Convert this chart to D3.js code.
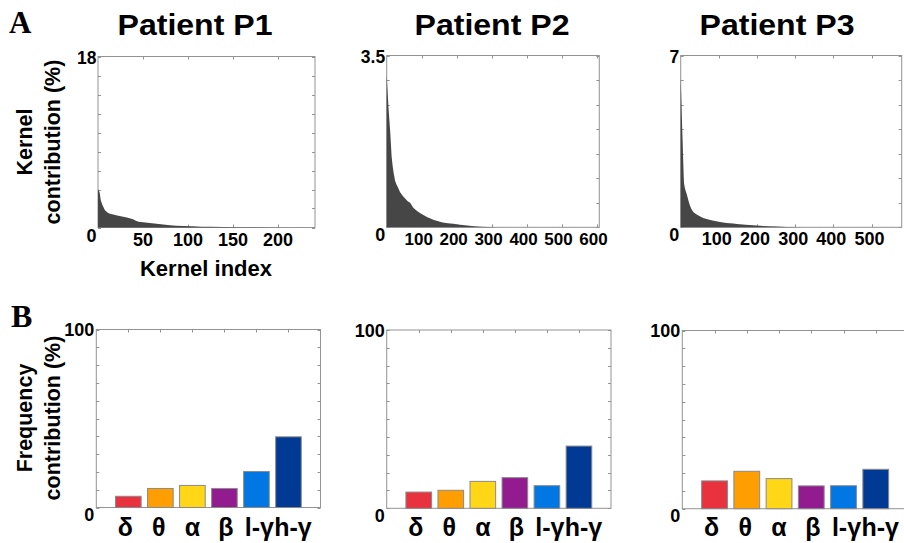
<!DOCTYPE html>
<html><head><meta charset="utf-8">
<script src="https://cdn.jsdelivr.net/npm/d3@7"></script>
<style>
body{margin:0;background:#fff}
text{font-family:Arial,"Liberation Sans",Helvetica,sans-serif;font-weight:bold;fill:#000}
</style>
</head><body>
<svg id="c" width="904" height="543"></svg>
<script>
// ---------- DATA ----------
const patientTitles = ["Patient P1", "Patient P2", "Patient P3"];

// Kernel contribution (%) sorted descending, sampled along kernel index
const p1KernelIndex = [0,1,2,3,4,5,6,7,8,9,10,12,14,17,20,24,28,32,36,39,42,45,50,55,60,65,70,75,80,87,95,105,115,125,140,160,180,200,220,240];
const p1KernelValue = [4.0,3.9,3.6,2.9,2.6,2.35,2.15,1.95,1.8,1.7,1.6,1.5,1.42,1.37,1.3,1.22,1.14,1.05,0.95,0.86,0.7,0.6,0.55,0.5,0.45,0.4,0.35,0.3,0.25,0.19,0.15,0.12,0.09,0.07,0.05,0.035,0.02,0.012,0.006,0.003];

const p2KernelIndex = [0,2,5,8,10,12,14,17,20,24,28,33,38,45,52,60,67,76,85,95,105,115,125,135,145,160,175,190,210,230,250,270,290,320,600];
const p2KernelValue = [3.1,2.85,2.45,2.15,1.95,1.7,1.45,1.25,1.1,0.95,0.87,0.8,0.72,0.65,0.59,0.53,0.5,0.4,0.34,0.29,0.25,0.21,0.18,0.15,0.13,0.1,0.08,0.07,0.05,0.035,0.02,0.012,0.006,0.003,0.001];

const p3KernelIndex = [0,1,2,3,4,5,6,7,8,9,11,13,16,20,24,28,33,38,42,50,59,68,80,90,103,120,138,147,170,190,208,230,251,277,320,400,575];
const p3KernelValue = [6.1,5.6,5.1,4.5,4.0,3.55,3.0,2.5,2.0,1.75,1.6,1.48,1.35,1.1,0.9,0.75,0.62,0.56,0.52,0.45,0.38,0.34,0.29,0.26,0.22,0.18,0.15,0.13,0.1,0.08,0.06,0.045,0.03,0.015,0.006,0.002,0.001];

const kernelXMax = [241, 608, 579];
const kernelYMax = [18, 3.5, 7];
const kernelYStep = [2, 0.5, 1];
const kernelYMaxLabel = ["18", "3.5", "7"];
const p1KernelTicks = [50,100,150,200];
const p2KernelTicks = [100,200,300,400,500,600];
const p3KernelTicks = [100,200,300,400,500];

// Frequency contribution (%)
const bands = ["δ", "θ", "α", "β", "l-γ", "h-γ"];
const bandColors = ["#e8333f", "#ff9e00", "#ffd717", "#921b8f", "#0177e3", "#013a94"];
const p1Freq = [6.3, 10.7, 12.4, 10.7, 20.2, 39.7];
const p2Freq = [9.1, 10.1, 15.1, 17.2, 12.7, 34.9];
const p3Freq = [15.6, 21.0, 16.9, 12.8, 12.9, 22.1];
const freqYMax = 100;

// ---------- LAYOUT ----------
const svg = d3.select("#c");
const frameColor = "#939393";
const kernelPanels = [
  {x0: 98, x1: 315, y0: 56.5, y1: 227.5, idx: p1KernelIndex, val: p1KernelValue, ticks: p1KernelTicks, tdx: 0, fs: 18},
  {x0: 386.7, x1: 599.3, y0: 55.5, y1: 227.3, idx: p2KernelIndex, val: p2KernelValue, ticks: p2KernelTicks, tdx: -3, fs: 17},
  {x0: 680.7, x1: 901.7, y0: 55.5, y1: 227.3, idx: p3KernelIndex, val: p3KernelValue, ticks: p3KernelTicks, tdx: -2, fs: 18}
];
const barPanels = [
  {x0: 96.3, x1: 320.5, y0: 329.5, y1: 507.5, vals: p1Freq},
  {x0: 386.7, x1: 611, y0: 330, y1: 508.3, vals: p2Freq},
  {x0: 682.3, x1: 908, y0: 330.5, y1: 508.7, vals: p3Freq}
];
const titleX = [195, 492, 777];

function drawTicks(g, x, y, xTicks, yTicks, p) {
  const tk = g.append("g").attr("stroke", frameColor).attr("stroke-width", 1);
  xTicks.forEach(v => {
    const xx = Math.round(x(v)) + 0.5;
    tk.append("line").attr("x1", xx).attr("x2", xx).attr("y1", p.y0).attr("y2", p.y0 + 3);
    tk.append("line").attr("x1", xx).attr("x2", xx).attr("y1", p.y1).attr("y2", p.y1 - 3);
  });
  yTicks.forEach(v => {
    const yy = Math.round(y(v)) + 0.5;
    tk.append("line").attr("x1", p.x0).attr("x2", p.x0 + 3).attr("y1", yy).attr("y2", yy);
    tk.append("line").attr("x1", p.x1).attr("x2", p.x1 - 3).attr("y1", yy).attr("y2", yy);
  });
}

// ---------- KERNEL PANELS ----------
kernelPanels.forEach((p, i) => {
  const g = svg.append("g");
  const x = d3.scaleLinear().domain([0, kernelXMax[i]]).range([p.x0, p.x1]);
  const y = d3.scaleLinear().domain([0, kernelYMax[i]]).range([p.y1, p.y0]);
  g.append("rect").attr("x", p.x0).attr("y", p.y0).attr("width", p.x1 - p.x0).attr("height", p.y1 - p.y0)
    .attr("fill", "#fff").attr("stroke", frameColor).attr("stroke-width", 1);
  drawTicks(g, x, y, p.ticks, d3.range(0, kernelYMax[i] + 1e-9, kernelYStep[i]), p);
  const data = p.idx.map((d, k) => [d, p.val[k]]);
  const area = d3.area().x(d => x(d[0])).y0(y(0)).y1(d => y(d[1])).curve(d3.curveLinear);
  g.append("path").datum(data).attr("d", area).attr("fill", "#464646");
  g.selectAll("text.xt").data(p.ticks).join("text").attr("class", "xt")
    .attr("x", d => x(d) + p.tdx).attr("y", p.y1 + 18)
    .attr("text-anchor", "middle").attr("font-size", p.fs).text(d => d);
  g.append("text").attr("x", p.x0 - 1.5).attr("y", p.y1 + 14).attr("text-anchor", "end").attr("font-size", 18).text("0");
  g.append("text").attr("x", p.x0 - 1.5).attr("y", p.y0 + 7).attr("text-anchor", "end").attr("font-size", 17.5).text(kernelYMaxLabel[i]);
  svg.append("text").attr("x", titleX[i]).attr("y", 35).attr("text-anchor", "middle")
    .attr("font-size", 29.5).attr("textLength", 155).attr("lengthAdjust", "spacingAndGlyphs").text(patientTitles[i]);
});

// ---------- FREQUENCY PANELS ----------
barPanels.forEach((p, i) => {
  const g = svg.append("g");
  const x = d3.scaleLinear().domain([0, 7]).range([p.x0, p.x1]);
  const y = d3.scaleLinear().domain([0, freqYMax]).range([p.y1, p.y0]);
  g.append("rect").attr("x", p.x0).attr("y", p.y0).attr("width", p.x1 - p.x0).attr("height", p.y1 - p.y0)
    .attr("fill", "#fff").attr("stroke", frameColor).attr("stroke-width", 1);
  drawTicks(g, x, y, d3.range(1, 7), d3.range(0, 101, 10), p);
  const bw = (x(1) - x(0)) * 0.8;
  g.selectAll("rect.bar").data(p.vals).join("rect").attr("class", "bar")
    .attr("x", (d, k) => x(k + 1) - bw / 2).attr("width", bw)
    .attr("y", d => y(d)).attr("height", d => y(0) - y(d))
    .attr("fill", (d, k) => bandColors[k]).attr("stroke", "#8a8a8a").attr("stroke-width", 1);
  g.selectAll("text.band").data(bands).join("text").attr("class", "band")
    .attr("x", (d, k) => x(k + 1) + (k - 2) * 1.5).attr("y", 535.5)
    .attr("text-anchor", "middle").attr("font-size", 25).text(d => d);
  g.append("text").attr("x", p.x0 - 2).attr("y", p.y1 + 13.5).attr("text-anchor", "end").attr("font-size", 18).text("0");
  g.append("text").attr("x", p.x0 - 2).attr("y", p.y0 + 6.5).attr("text-anchor", "end").attr("font-size", 18).text(freqYMax);
});

// ---------- LABELS ----------
svg.append("text").attr("x", 9).attr("y", 33).attr("font-size", 31)
  .style("font-family", "'Times New Roman','Liberation Serif',serif").text("A");
svg.append("text").attr("x", 11).attr("y", 327).attr("font-size", 32)
  .style("font-family", "'Times New Roman','Liberation Serif',serif").text("B");

function rotLabel(lines, cy) {
  const xs = [32, 60];
  lines.forEach((t, k) => {
    svg.append("text").attr("transform", `translate(${xs[k]},${cy}) rotate(-90)`)
      .attr("text-anchor", "middle").attr("font-size", 21.5).text(t);
  });
}
rotLabel(["Kernel", "contribution (%)"], 142);
rotLabel(["Frequency", "contribution (%)"], 418);

svg.append("text").attr("x", 206).attr("y", 276).attr("text-anchor", "middle").attr("font-size", 22).text("Kernel index");
</script>
</body></html>
